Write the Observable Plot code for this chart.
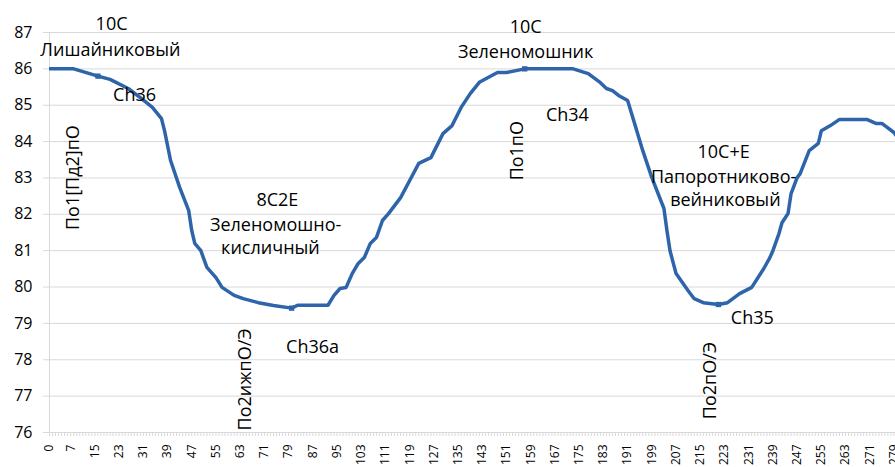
<!DOCTYPE html>
<html><head><meta charset="utf-8">
<script src="https://cdn.jsdelivr.net/npm/d3@7"></script>
<script src="https://cdn.jsdelivr.net/npm/@observablehq/plot@0.6"></script>
<style>
body{margin:0;overflow:hidden;background:#fff}
</style>
</head><body><div id="chart"></div>
<script>
// Profile position (category index) and value
const pos = [0,8,16,20,26,30,34,37,38,40,43,46,47,48,50,52,55,57,61,64,69,74,80,82,92,94,96,98,100,102,104,106,108,110,112,116,119,122,126,130,133,136,139,142,148,151,157,173,178,182,184,186,188,191,193,196,199,203,204,205,207,211,213,216,221,224,228,232,236,238,239,241,242,244,245,247,248,251,254,255,258,261,270,273,275,279,282];
const elev = [86.0,86.0,85.8,85.71,85.46,85.21,84.94,84.63,84.3,83.48,82.74,82.1,81.55,81.2,81.0,80.54,80.26,79.99,79.77,79.68,79.57,79.49,79.42,79.5,79.5,79.77,79.96,79.99,80.37,80.65,80.81,81.2,81.36,81.83,82.02,82.46,82.93,83.4,83.56,84.22,84.44,84.94,85.32,85.63,85.9,85.9,86.0,86.0,85.87,85.62,85.46,85.4,85.27,85.13,84.58,83.75,83.01,82.16,81.55,81.0,80.37,79.9,79.68,79.57,79.52,79.57,79.82,79.99,80.51,80.81,81.0,81.47,81.77,82.02,82.57,83.01,83.12,83.75,83.95,84.3,84.44,84.61,84.61,84.5,84.5,84.25,83.9];
// marked points on the line
const markerPos = [16,80,157,221];
const markerVal = [85.8,79.42,86.0,79.52];
// axis ticks
const xTickLabels = [0,7,15,23,31,39,47,55,63,71,79,87,95,103,111,119,127,135,143,151,159,167,175,183,191,199,207,215,223,231,239,247,255,263,271,279];
const xMinorTicks = d3.range(0,280);
const yTicks = [76,77,78,79,80,81,82,83,84,85,86,87];
// annotations
const noteText = ["10С","Лишайниковый","Ch36","По1[Пд2]пО","8С2Е","Зеленомошно-","кисличный","По2ижпО/Э","Ch36a","10С","Зеленомошник","Ch34","По1пО","10С+Е","Папоротниково-","вейниковый","Ch35","По2пО/Э"];
const noteX = [20.5,20.1,28.1,7.9,75.3,74.7,73.0,64.7,86.9,157.3,157.3,171.1,154.6,222.7,222.7,223.3,232.2,218.4];
const noteY = [87.22,86.5,85.27,83.01,82.38,81.69,81.06,77.46,78.34,87.14,86.45,84.72,83.75,83.70,83.01,82.38,79.13,77.43];
const noteRot = [0,0,0,-90,0,0,0,-90,0,0,0,0,-90,0,0,0,0,-90];

const line = pos.map((p,i)=>({p, v: elev[i]}));
const marks = markerPos.map((p,i)=>({p, v: markerVal[i]}));
const notes = noteText.map((t,i)=>({t, x: noteX[i], y: noteY[i], r: noteRot[i]}));
const blue = "#2e64aa";
const grey = "#d9d9d9";

const chart = Plot.plot({
  width: 895, height: 467,
  marginTop: 32, marginBottom: 35, marginLeft: 49, marginRight: 0,
  style: {fontFamily: "'Open Sans', sans-serif", color: "#000", background: "#fff"},
  x: {domain: [0, 279.5]},
  y: {domain: [76, 87]},
  marks: [
    Plot.gridY(yTicks, {stroke: grey, strokeOpacity: 1}),
    Plot.axisY(yTicks, {tickSize: 6, tickPadding: 11, stroke: grey, strokeOpacity: 1, fill: "#000", fontSize: 16, label: null}),
    Plot.ruleX([0], {stroke: grey}),
    Plot.axisX(xMinorTicks, {tickSize: 4, stroke: grey, strokeOpacity: 1, tickFormat: () => "", label: null}),
    Plot.axisX(xTickLabels, {tickSize: 0, tickPadding: 12, tickRotate: -90, fontSize: 12, fill: "#000", label: null}),
    Plot.line(line, {x: "p", y: "v", stroke: blue, strokeWidth: 3.5, strokeLinejoin: "round", clip: true}),
    Plot.dot(marks, {x: "p", y: "v", symbol: "square", r: 3, fill: blue}),
    Plot.text(notes, {x: "x", y: "y", text: "t", rotate: "r", fontSize: 18, fill: "#000"})
  ]
});
document.getElementById("chart").appendChild(chart);
</script>
</body></html>
